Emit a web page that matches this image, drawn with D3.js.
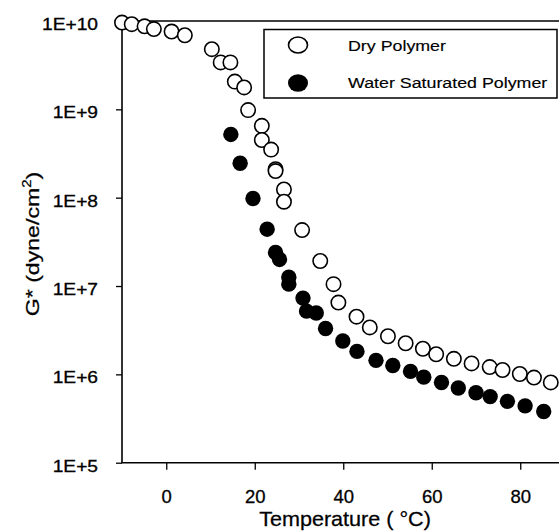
<!DOCTYPE html>
<html>
<head>
<meta charset="utf-8">
<script src="https://cdn.jsdelivr.net/npm/d3@7"></script>
<style>
  html, body { margin: 0; padding: 0; background: #fff; }
  svg { display: block; font-family: "Liberation Sans", Arial, Helvetica, sans-serif; }
</style>
</head>
<body>
<svg id="chart" width="559" height="531"></svg>
<script>
// Shear modulus G* (dyne/cm^2) versus temperature (°C)
const dryTemp = [-10, -7.8, -4.9, -2.8, 1.2, 4.2, 10.3, 12.3, 14.5, 15.5, 17.6, 18.5,
  21.6, 21.6, 23.7, 24.7, 24.7, 26.6, 26.6, 30.7, 34.8, 37.8, 38.9, 43.0, 46.0,
  50.1, 54.1, 58.0, 61.0, 65.0, 69.0, 73.1, 76.0, 79.9, 83.1, 86.9];
const dryG = [9.6e9, 9.2e9, 8.7e9, 8.1e9, 7.6e9, 6.9e9, 4.8e9, 3.4e9, 3.4e9, 2.06e9, 1.77e9, 9.8e8,
  6.5e8, 4.5e8, 3.5e8, 2.1e8, 2.0e8, 1.24e8, 9.0e7, 4.3e7, 1.92e7, 1.05e7, 6.5e6, 4.5e6, 3.4e6,
  2.7e6, 2.25e6, 1.95e6, 1.69e6, 1.5e6, 1.33e6, 1.21e6, 1.12e6, 1.01e6, 9.2e5, 8.1e5];

const wetTemp = [14.6, 16.7, 19.6, 22.8, 24.7, 25.6, 27.7, 27.7, 30.9, 31.7, 33.9, 36.0,
  39.9, 43.1, 47.4, 51.2, 55.2, 58.2, 62.2, 66.0, 70.0, 73.2, 77.1, 81.1, 85.3];
const wetG = [5.2e8, 2.45e8, 9.8e7, 4.4e7, 2.4e7, 2.0e7, 1.26e7, 1.05e7, 7.3e6, 5.2e6, 4.95e6, 3.3e6,
  2.39e6, 1.82e6, 1.44e6, 1.26e6, 1.08e6, 9.3e5, 8.1e5, 7.0e5, 6.2e5, 5.6e5, 4.95e5, 4.4e5, 3.8e5];

const xTicks = [0, 20, 40, 60, 80];
const xMinorTicks = [10, 30, 50, 70, 90];
const yTicks = [1e5, 1e6, 1e7, 1e8, 1e9, 1e10];
const seriesNames = ["Dry Polymer", "Water Saturated Polymer"];

const svg = d3.select("#chart");
const font = '"Liberation Sans", Arial, Helvetica, sans-serif';

const x = d3.scaleLinear().domain([-10, 100]).range([122, 608.75]);
const y = d3.scaleLog().domain([1e5, 1e10]).range([462.7, 21]);

// minor log ticks (2..9 within each decade)
const yMinor = [];
for (let e = 5; e < 10; e++) for (let m = 2; m <= 9; m++) yMinor.push(m * Math.pow(10, e));

const axisStroke = 1.6;
const wide = 1.2;   // the vertical-axis lettering is set extended

// y axis
const gy = svg.append("g").attr("transform", `translate(${x(-10)},0)`);
gy.call(d3.axisLeft(y).tickValues(yMinor).tickSize(3).tickFormat(""));
gy.call(d3.axisLeft(y).tickValues(yTicks).tickSize(6).tickPadding(18)
  .tickFormat(d => "1E+" + Math.round(Math.log10(d))));
gy.selectAll(".domain").remove();
gy.selectAll("line").attr("stroke", "#000").attr("stroke-width", 1.3);
gy.selectAll("text")
  .attr("font-family", font).attr("font-size", 16).attr("fill", "#000")
  .attr("stroke", "#000").attr("stroke-width", 0.3)
  .attr("dy", "0.52em")
  .attr("x", function() { return +d3.select(this).attr("x") / wide; })
  .attr("transform", `scale(${wide},1)`);

// x axis
const gx = svg.append("g").attr("transform", `translate(0,${y(1e5)})`);
gx.call(d3.axisBottom(x).tickValues(xMinorTicks).tickSize(3).tickFormat(""));
gx.call(d3.axisBottom(x).tickValues(xTicks).tickSize(7).tickPadding(20).tickFormat(d3.format("d")));
gx.selectAll(".domain").remove();
gx.selectAll("line").attr("stroke", "#000").attr("stroke-width", 1.3);
gx.selectAll("text").attr("font-family", font).attr("font-size", 18.5).attr("fill", "#000")
  .attr("stroke", "#000").attr("stroke-width", 0.3);

// frame: left, bottom and top lines
svg.append("path")
  .attr("d", `M${x(100)},${y(1e10)}H${x(-10)}V${y(1e5)}H${x(100)}`)
  .attr("fill", "none").attr("stroke", "#000").attr("stroke-width", axisStroke);

// axis titles
svg.append("text")
  .attr("transform", "translate(345,526) scale(1.08,1)")
  .attr("text-anchor", "middle")
  .attr("font-family", font).attr("font-size", 20)
  .attr("stroke", "#000").attr("stroke-width", 0.25)
  .text("Temperature ( °C)");

const yTitle = svg.append("text")
  .attr("transform", "translate(39,244) rotate(-90) scale(1.25,1)")
  .attr("text-anchor", "middle")
  .attr("font-family", font).attr("font-size", 18.5)
  .attr("stroke", "#000").attr("stroke-width", 0.25);
yTitle.append("tspan").text("G* (dyne/cm");
yTitle.append("tspan").attr("font-size", 12).attr("dy", -8).text("2");
yTitle.append("tspan").attr("dy", 8).text(")");

// data points
const r = 7.2;
svg.append("g").selectAll("circle")
  .data(dryTemp.map((t, i) => [t, dryG[i]]))
  .join("circle")
  .attr("cx", d => x(d[0])).attr("cy", d => y(d[1])).attr("r", r)
  .attr("fill", "#fff").attr("stroke", "#000").attr("stroke-width", 1.6);

svg.append("g").selectAll("circle")
  .data(wetTemp.map((t, i) => [t, wetG[i]]))
  .join("circle")
  .attr("cx", d => x(d[0])).attr("cy", d => y(d[1])).attr("r", r + 0.5)
  .attr("fill", "#000");

// legend
const lg = svg.append("g");
lg.append("rect").attr("x", 264).attr("y", 29.5).attr("width", 293).attr("height", 68.5)
  .attr("fill", "#fff").attr("stroke", "#000").attr("stroke-width", 1.5);
lg.append("ellipse").attr("cx", 298).attr("cy", 45).attr("rx", 9.5).attr("ry", 8)
  .attr("fill", "#fff").attr("stroke", "#000").attr("stroke-width", 1.6);
lg.append("ellipse").attr("cx", 298).attr("cy", 83).attr("rx", 10).attr("ry", 8.8).attr("fill", "#000");
lg.selectAll("text.lab").data(seriesNames).join("text")
  .attr("class", "lab")
  .attr("transform", (d, i) => `translate(348,${i === 0 ? 51 : 88}) scale(1.15,1)`)
  .attr("font-family", font).attr("font-size", 15.5)
  .attr("stroke", "#000").attr("stroke-width", 0.15)
  .text(d => d);
</script>
</body>
</html>
